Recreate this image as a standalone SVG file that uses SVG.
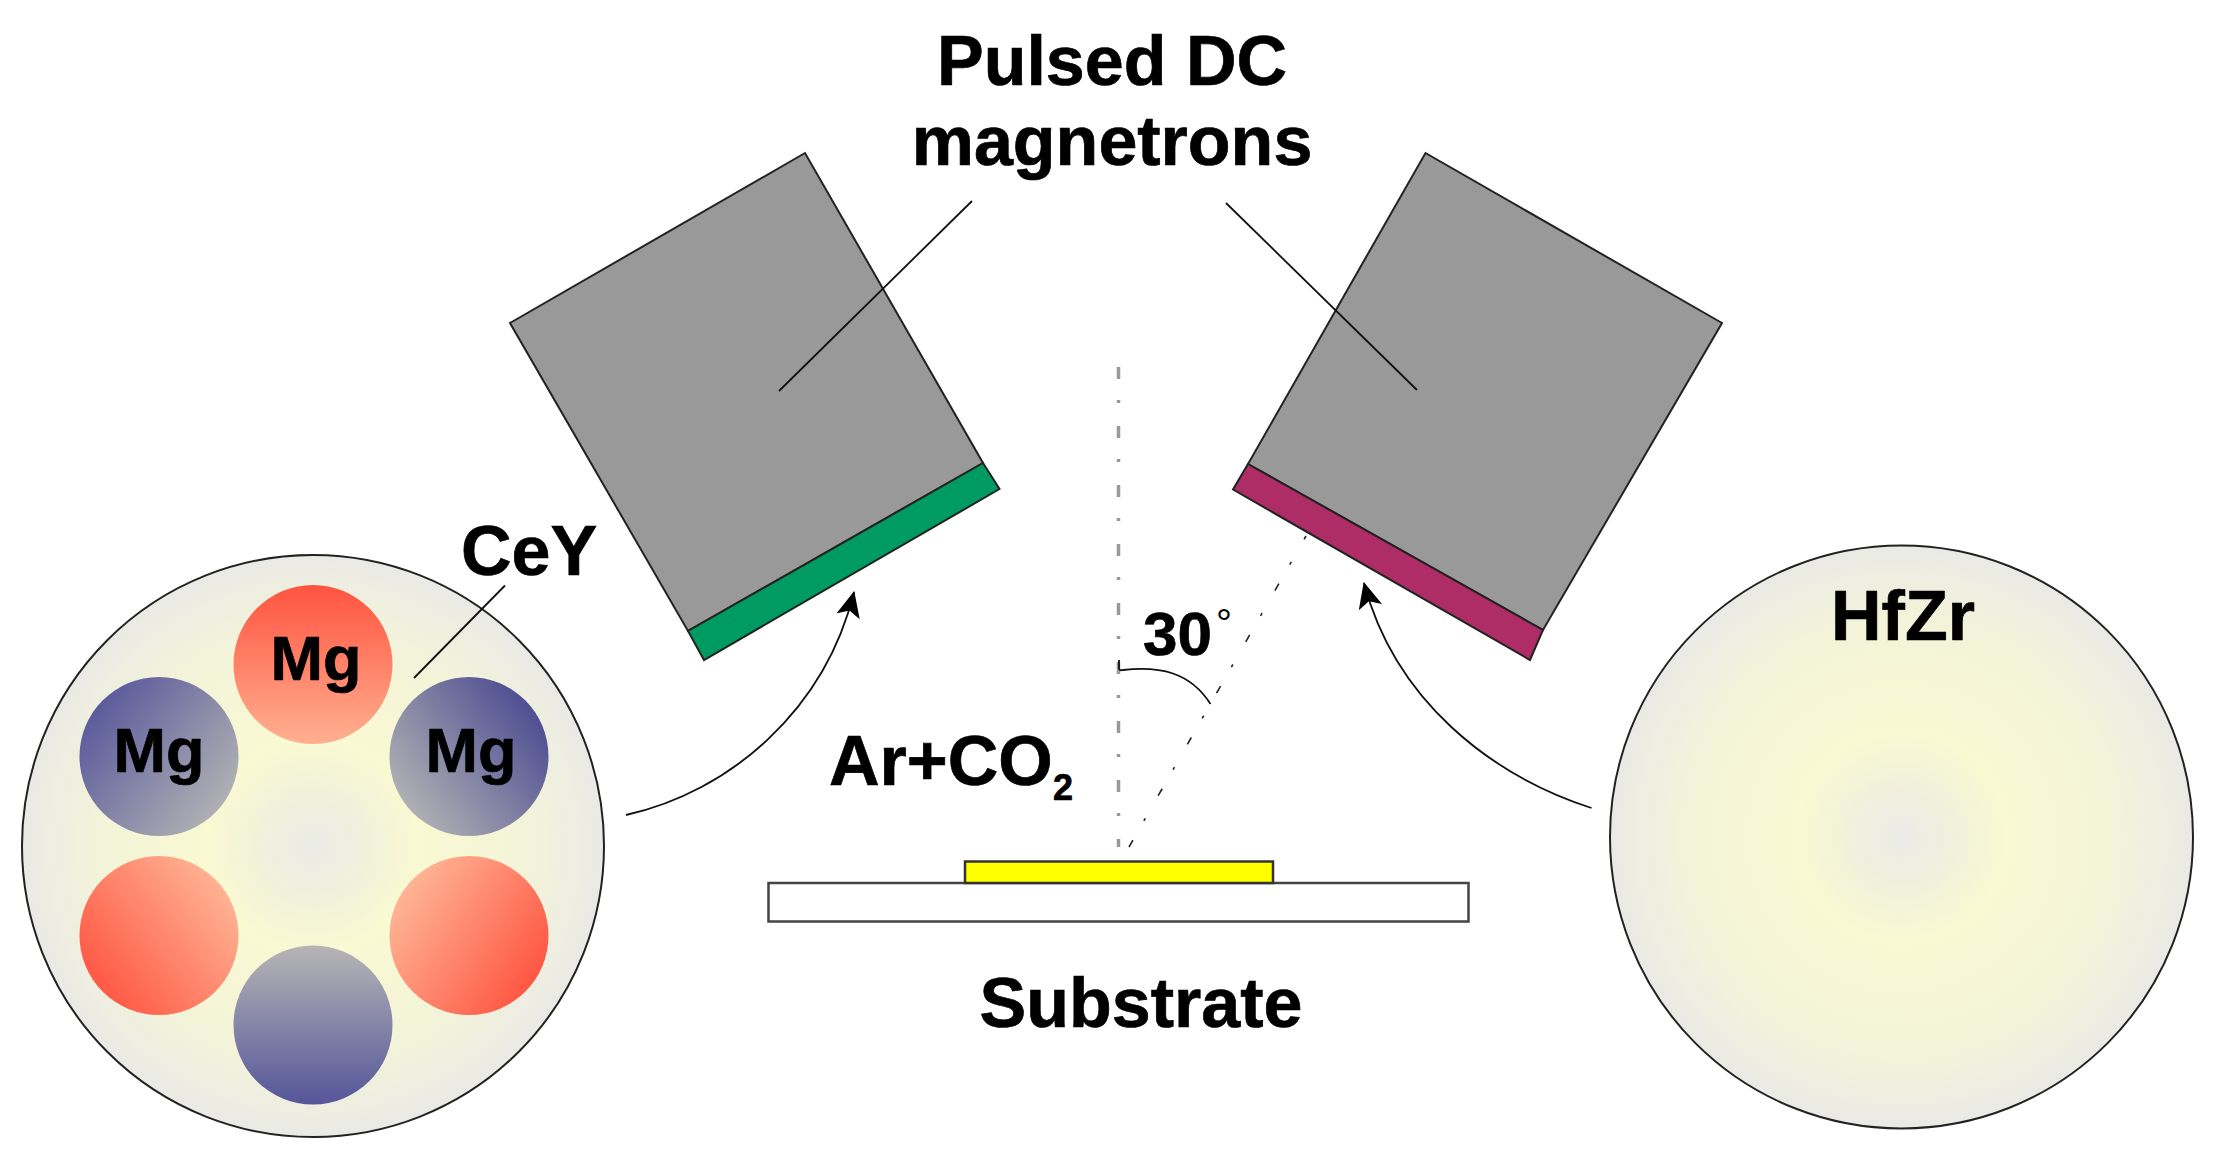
<svg xmlns="http://www.w3.org/2000/svg" width="2222" height="1162" viewBox="0 0 2222 1162">
<style>
text{font-family:"Liberation Sans",Arial,sans-serif;font-weight:700;fill:#000;stroke:#000;stroke-width:.7px}
.t68{font-size:70px}
.mg{font-size:63px}
.wafer{stroke:#222;stroke-width:2}
.mag{fill:#999;stroke:#222;stroke-width:2;stroke-linejoin:miter}
.lead{fill:none;stroke:#111;stroke-width:1.8}
</style>
<defs>
<radialGradient id="gw" cx=".5" cy=".5" r=".5">
<stop offset="0" stop-color="#ebebe8"/><stop offset=".14" stop-color="#efefde"/><stop offset=".36" stop-color="#f9f9d2"/><stop offset=".75" stop-color="#f3f3da"/><stop offset="1" stop-color="#eaeae6"/>
</radialGradient>
<linearGradient id="r1" x1=".5" y1="0" x2=".5" y2="1"><stop offset="0" stop-color="#ff5340"/><stop offset="1" stop-color="#ffb090"/></linearGradient>
<linearGradient id="b2" x1=".05" y1=".15" x2=".95" y2=".85"><stop offset="0" stop-color="#55559a"/><stop offset="1" stop-color="#b6b6b6"/></linearGradient>
<linearGradient id="b3" x1=".95" y1=".15" x2=".05" y2=".85"><stop offset="0" stop-color="#484890"/><stop offset="1" stop-color="#b6b6b6"/></linearGradient>
<linearGradient id="r4" x1=".05" y1=".85" x2=".95" y2=".15"><stop offset="0" stop-color="#ff5340"/><stop offset="1" stop-color="#ffb898"/></linearGradient>
<linearGradient id="r5" x1=".95" y1=".8" x2=".05" y2=".2"><stop offset="0" stop-color="#ff5340"/><stop offset="1" stop-color="#ffb898"/></linearGradient>
<linearGradient id="b6" x1=".5" y1="1" x2=".5" y2="0"><stop offset="0" stop-color="#55559a"/><stop offset="1" stop-color="#b6b6b6"/></linearGradient>
<marker id="ah" markerUnits="userSpaceOnUse" markerWidth="28" markerHeight="26" refX="25" refY="12" orient="auto"><path d="M0 0L26 12L0 24L6 12Z" fill="#000"/></marker>
</defs>
<g id="magnetron-left">
<polygon class="mag" points="805,153 510,323 688,631 983,463"/>
<polygon points="983,463 999.5,489 704,660 688,631" fill="#009b62" stroke="#222" stroke-width="2"/>
</g>
<g id="magnetron-right">
<polygon class="mag" points="1425.5,153 1722,323 1543,630 1248,464"/>
<polygon points="1248,464 1233,489.5 1530,660 1543,630" fill="#ae2d66" stroke="#222" stroke-width="2"/>
</g>
<g id="wafer-left">
<circle class="wafer" cx="313" cy="846" r="291" fill="url(#gw)"/>
<circle cx="313" cy="664.500" r="79.500" fill="url(#r1)"/>
<circle cx="159" cy="756.500" r="79.500" fill="url(#b2)"/>
<circle cx="469" cy="756.500" r="79.500" fill="url(#b3)"/>
<circle cx="159" cy="935.500" r="79.500" fill="url(#r4)"/>
<circle cx="469" cy="935.500" r="79.500" fill="url(#r5)"/>
<circle cx="313" cy="1025" r="79.500" fill="url(#b6)"/>
<text class="mg" x="316" y="680" text-anchor="middle">Mg</text>
<text class="mg" x="159" y="772" text-anchor="middle">Mg</text>
<text class="mg" x="471" y="772" text-anchor="middle">Mg</text>
</g>
<g id="wafer-right">
<circle class="wafer" cx="1901.500" cy="837" r="291.500" fill="url(#gw)"/>
<text class="t68" x="1903" y="640" text-anchor="middle">HfZr</text>
</g>
<g id="substrate">
<rect x="768.500" y="883" width="700" height="38.500" fill="#fff" stroke="#444" stroke-width="2.500"/>
<rect x="965" y="861.500" width="308" height="21.500" fill="#ff0" stroke="#333" stroke-width="2.500"/>
</g>
<g id="connectors">
<path d="M1118.500 367V847" fill="none" stroke="#999" stroke-width="3.500" stroke-dasharray="12 21 3 23"/>
<path d="M1129 847L1306 536" fill="none" stroke="#222" stroke-width="1.600" stroke-dasharray="8 22 3 26"/>
<path class="lead" d="M1119 660V668Q1119 671 1123 670C1160 666 1190 672 1210.500 704"/>
<path class="lead" d="M972 201L779 391"/>
<path class="lead" d="M1226 203L1417 390"/>
<path class="lead" d="M505 585.500L414 678"/>
<path class="lead" marker-end="url(#ah)" d="M626 815C730 792 825 710 854 592"/>
<path class="lead" marker-end="url(#ah)" d="M1591.500 808C1490 775 1395 700 1364 583"/>
</g>
<g id="labels">
<text class="t68" x="1112" y="85" text-anchor="middle">Pulsed DC</text>
<text class="t68" x="1112" y="165" text-anchor="middle">magnetrons</text>
<text class="t68" x="461" y="575">CeY</text>
<text x="1143" y="655" font-size="62">30</text>
<text x="1216" y="637" font-size="40" style="font-weight:400;stroke-width:0">°</text>
<text class="t68" x="829" y="785">Ar+CO</text>
<text x="1053" y="800" font-size="36">2</text>
<text class="t68" x="1141" y="1027" text-anchor="middle">Substrate</text>
</g>
</svg>
